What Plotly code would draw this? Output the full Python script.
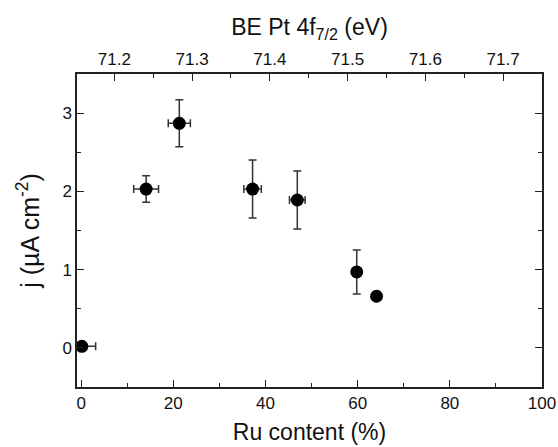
import plotly.graph_objects as go

ru_content = [0.15, 14.1, 21.3, 37.2, 46.9, 59.8, 64.1]
current_j = [0.02, 2.03, 2.87, 2.03, 1.89, 0.97, 0.66]
j_err = [0.0, 0.17, 0.30, 0.37, 0.37, 0.28, 0.0]
ru_err = [3.0, 2.7, 2.4, 1.9, 1.7, 0.0, 0.0]

x_range = [-0.9, 100]
y_range = [-0.5, 3.5]
be_range = [71.152, 71.75]
be_ticks = [71.2, 71.3, 71.4, 71.5, 71.6, 71.7]
x_ticks = [0, 20, 40, 60, 80, 100]
y_ticks = [0, 1, 2, 3]

FONT = "Liberation Sans, Arial, sans-serif"
AX = "#222222"

fig = go.Figure()
fig.add_trace(go.Scatter(
    x=ru_content, y=current_j, mode="markers",
    marker=dict(size=13, color="black"),
    error_y=dict(type="data", array=j_err, visible=True, color="#333333", thickness=1.5, width=4),
    error_x=dict(type="data", array=ru_err, visible=True, color="#333333", thickness=1.5, width=4),
    showlegend=False, cliponaxis=False,
))
# invisible helper trace so that the top (BE) axis is drawn
fig.add_trace(go.Scatter(
    x=be_range, y=[None, None], xaxis="x2", yaxis="y", mode="markers",
    marker=dict(opacity=0), showlegend=False, hoverinfo="skip",
))

common = dict(showline=True, linecolor=AX, linewidth=1.5, ticks="inside", tickcolor=AX,
              tickwidth=1.2, ticklen=7, showgrid=False, zeroline=False, automargin=False,
              tickfont=dict(family=FONT, size=17, color="#111111"))

fig.update_layout(
    width=558, height=447,
    margin=dict(l=77, r=16, t=74, b=60),
    paper_bgcolor="white", plot_bgcolor="white",
    font=dict(family=FONT, color="#111111"),
    xaxis=dict(range=x_range, tickvals=x_ticks,
               minor=dict(dtick=10, ticks="inside", ticklen=4, tickcolor=AX),
               title=dict(text="Ru content (%)", font=dict(size=23), standoff=12),
               **common),
    yaxis=dict(range=y_range, tickvals=y_ticks, mirror="ticks",
               minor=dict(dtick=0.5, ticks="inside", ticklen=4, tickcolor=AX),
               title=dict(text="j (µA cm<sup>-2</sup>)", font=dict(size=25), standoff=16),
               **common),
    xaxis2=dict(range=be_range, tickvals=be_ticks, overlaying="x", side="top", anchor="y",
                tickformat=".1f",
                minor=dict(dtick=0.05, tick0=71.15, ticks="inside", ticklen=4, tickcolor=AX),
                title=dict(text="BE Pt 4f<sub>7/2</sub> (eV)", font=dict(size=23), standoff=8),
                **common),
)

fig.write_html("out.html")
